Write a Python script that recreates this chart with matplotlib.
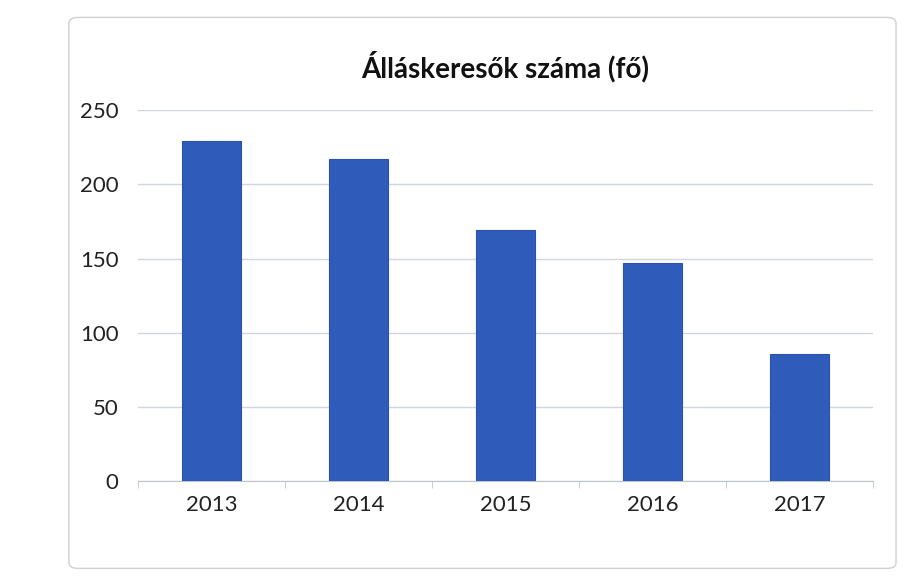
import matplotlib
matplotlib.use("Agg")
import matplotlib.pyplot as plt
from matplotlib.patches import FancyBboxPatch

plt.rcParams['font.family'] = ['Lato', 'DejaVu Sans']

title = "Álláskeresők száma (fő)"
years = ["2013", "2014", "2015", "2016", "2017"]
values = [229, 217, 169, 147, 86]
yticks = [0, 50, 100, 150, 200, 250]

fig = plt.figure(figsize=(9.19, 5.8), dpi=100)
fig.patch.set_facecolor("white")

# chart-area border (Excel style)
border = FancyBboxPatch((0.075, 0.02), 0.90, 0.95, boxstyle="round,pad=0,rounding_size=0.01",
                        transform=fig.transFigure, fill=False, edgecolor="#d0d0d0", lw=1.0)
fig.add_artist(border)

ax = fig.add_axes([0.15, 0.17, 0.80, 0.64])
x = list(range(len(years)))
ax.bar(x, values, width=0.4, color="#2f5cba", edgecolor="#2a53ad", linewidth=0.8, zorder=3)

ax.set_ylim(0, 250)
ax.set_yticks(yticks)
ax.set_yticklabels([str(t) for t in yticks], fontsize=16, color="#222222")
ax.set_xlim(-0.5, len(years) - 0.5)
ax.set_xticks(x)
ax.set_xticklabels(years, fontsize=16, color="#222222")
ax.grid(axis="y", color="#cfd6e0", linewidth=1.0, zorder=0)
ax.tick_params(axis="y", length=0, pad=14)
ax.tick_params(axis="x", length=0, pad=10)
for s in ["top", "right", "left"]:
    ax.spines[s].set_visible(False)
ax.spines["bottom"].set_color("#bfc5cc")
# minor ticks between categories
ax.set_xticks([i + 0.5 for i in range(-1, len(years))], minor=True)
ax.tick_params(axis="x", which="minor", length=5, color="#bfc5cc")

fig.text(0.55, 0.885, title, ha="center", va="center", fontsize=20, fontweight="bold", color="#111111")

fig.savefig("out.png", dpi=100, facecolor="white")
